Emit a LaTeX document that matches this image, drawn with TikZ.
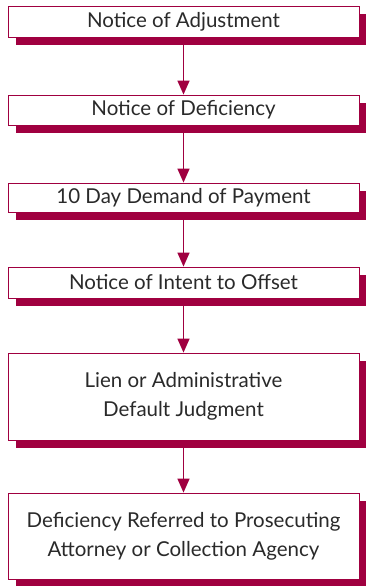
\documentclass[tikz,border=0pt]{standalone}
\usepackage{fontspec}
\setmainfont{Lato}
\usetikzlibrary{arrows.meta,shadows}
\definecolor{crim}{HTML}{A00040}
\definecolor{txt}{HTML}{2A2A2A}
\tikzset{
  stepbox/.style={draw=crim, line width=0.8pt, fill=white, minimum width=351pt,
    inner sep=0pt, align=center, text=txt, font=\fontsize{20.5}{29}\selectfont,
    drop shadow={shadow xshift=8pt, shadow yshift=-8pt, fill=crim, opacity=1}},
  flow/.style={draw=crim, line width=1.4pt, -{Triangle[width=12pt,length=14pt]}}
}
\begin{document}
\begin{tikzpicture}[x=1pt,y=1pt]
\useasboundingbox (0,0) rectangle (365,-586);
\node[stepbox, minimum height=31pt] (b1) at (183.5,-21.5) {Notice of Adjustment};
\node[stepbox, minimum height=30pt] (b2) at (183.5,-110) {Notice of Deficiency};
\node[stepbox, minimum height=29pt] (b3) at (183.5,-197.5) {10 Day Demand of Payment};
\node[stepbox, minimum height=31pt] (b4) at (183.5,-282.5) {Notice of Intent to Offset};
\node[stepbox, minimum height=87pt] (b5) at (183.5,-396.5) {Lien or Administrative\\Default Judgment};
\node[stepbox, minimum height=86pt] (b6) at (183.5,-536) {Deficiency Referred to Prosecuting\\Attorney or Collection Agency};
\draw[flow] (b1.south) -- (b2.north);
\draw[flow] (b2.south) -- (b3.north);
\draw[flow] (b3.south) -- (b4.north);
\draw[flow] (b4.south) -- (b5.north);
\draw[flow] (b5.south) -- (b6.north);
\end{tikzpicture}
\end{document}
